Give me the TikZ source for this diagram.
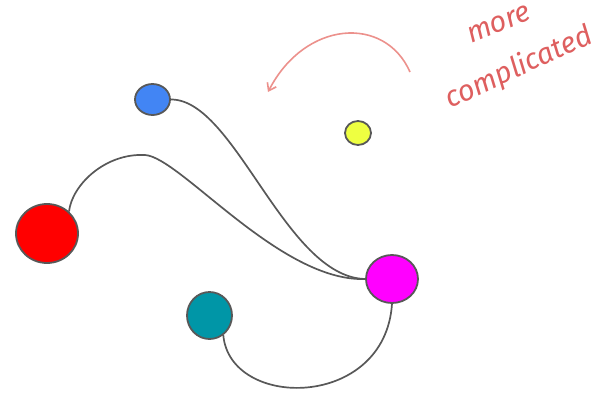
\documentclass[tikz,border=0pt]{standalone}
\usepackage{fontspec}
\newfontfamily\handfont{Fira Sans}
\usetikzlibrary{shapes.geometric,arrows.meta}
\definecolor{edgegray}{RGB}{88,88,88}
\definecolor{nblue}{RGB}{66,133,244}
\definecolor{nred}{RGB}{255,0,0}
\definecolor{nyellow}{RGB}{238,255,65}
\definecolor{nmag}{RGB}{255,0,255}
\definecolor{nteal}{RGB}{0,150,167}
\definecolor{notecol}{RGB}{222,95,95}
\definecolor{arrowcol}{RGB}{236,145,140}
\tikzset{
  dot/.style={ellipse, draw=edgegray, line width=1.8pt, inner sep=0pt},
  link/.style={draw=edgegray, line width=1.7pt},
  note/.style={text=notecol, inner sep=1pt, font=\handfont\itshape\fontsize{29}{31}\selectfont},
}
\begin{document}
\begin{tikzpicture}[x=1pt,y=-1pt]
\useasboundingbox (0,0) rectangle (606,394);
\node[dot, fill=nblue, minimum width=35pt, minimum height=31pt] (blue) at (152.5,99.5) {};
\node[dot, fill=nred, minimum width=62pt, minimum height=59pt] (red) at (47,233.5) {};
\node[dot, fill=nyellow, minimum width=26pt, minimum height=24pt] (yellow) at (358,133) {};
\node[dot, fill=nmag, minimum width=52pt, minimum height=48pt] (mag) at (392,279) {};
\node[dot, fill=nteal, minimum width=45pt, minimum height=47pt] (teal) at (209.5,315.5) {};
\coordinate (peak) at (145,155);
\path[link] (blue.east) .. controls (235,99) and (285,277) .. (mag.west);
\path[link] (red.45) .. controls (72,185) and (105,153) .. (peak)
  .. controls (180,157) and (280,282) .. (mag.west);
\path[link] (teal.-55) .. controls (230,410) and (385,410) .. (mag.south);
\coordinate (astart) at (410,72);
\coordinate (aend) at (268,92);
\draw[arrowcol, line width=1.6pt, -{Straight Barb[length=7pt,width=10pt]}] (astart) .. controls (385,15) and (305,20) .. (aend);
\node[note, rotate=22] (more) at (499,24) {more};
\node[note, rotate=25] (compl) at (519,68) {complicated};
\end{tikzpicture}
\end{document}
